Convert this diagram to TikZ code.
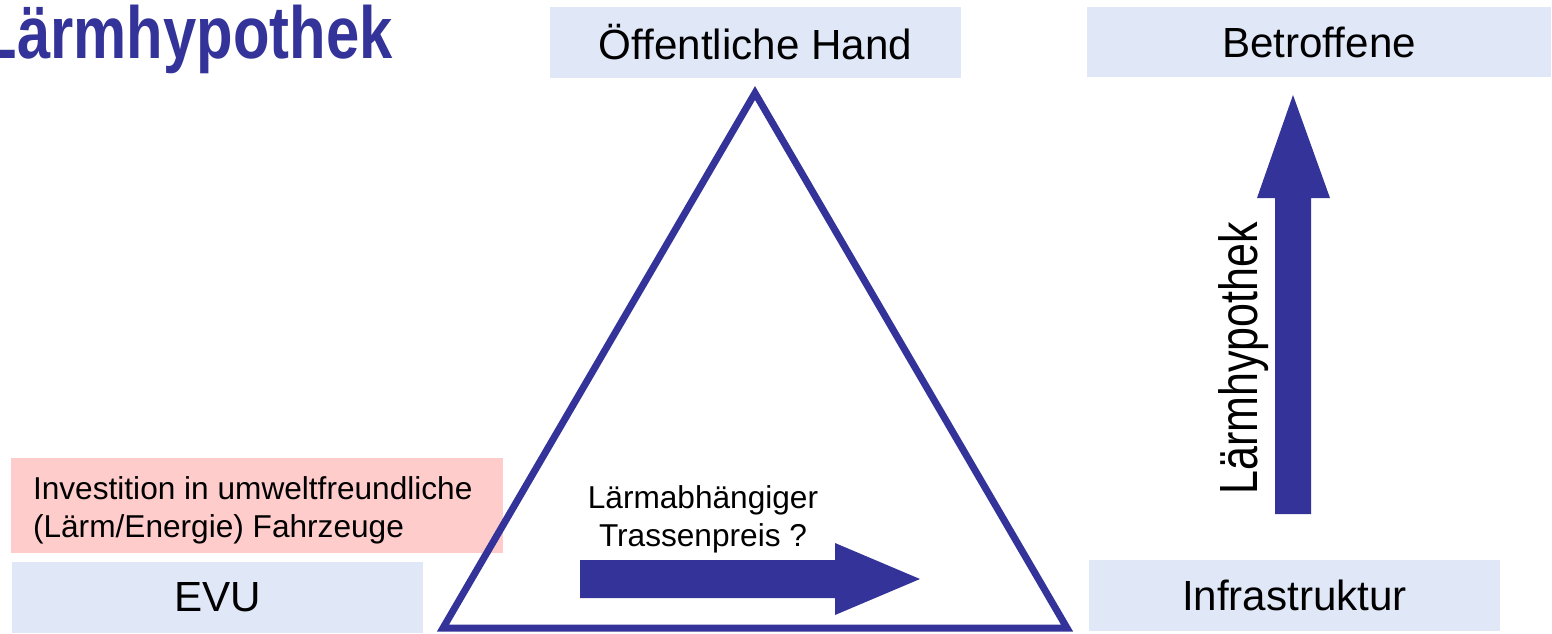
\documentclass[tikz,border=0pt]{standalone}
\usepackage{fontspec}
\setmainfont{Liberation Sans}
\definecolor{hypblue}{RGB}{51,51,153}
\definecolor{boxblue}{RGB}{224,231,247}
\definecolor{boxpink}{RGB}{255,204,204}
\tikzset{
  party/.style={fill=boxblue, minimum width=8.22cm, minimum height=1.42cm, inner sep=0pt, font=\fontsize{24}{28}\selectfont},
  hint/.style={font=\fontsize{18}{21.6}\selectfont, inner sep=0pt},
}

\begin{document}
\begin{tikzpicture}[x=0.02cm, y=-0.02cm]
        \useasboundingbox (0,0) rectangle (1552,633);

        % title, cut at the left edge
        \node (title) [anchor=base east, inner sep=0pt, text=hypblue, font=\fontsize{42}{50}\selectfont\bfseries] at (393,58) {\scalebox{0.81}[1]{Lärmhypothek}};

        % parties
        \node (hand) [party] at (755.5,42.5) {Öffentliche Hand};
        \node (betroffene) [party, minimum width=9.28cm] at (1319,42) {Betroffene};
        \node (infra) [party] at (1294.5,595) {Infrastruktur};
        \node (evu) [party] at (217.5,597.5) {EVU};

        \node (invest) [fill=boxpink, minimum width=9.84cm, minimum height=1.9cm, inner sep=0pt] at (257,505.5) {};
        \node (investtext) [hint, anchor=west, align=left] at ([xshift=0.44cm, yshift=-0.1cm]invest.west) {Investition in umweltfreundliche\\(Lärm/Energie) Fahrzeuge};

        % triangle
        \draw[hypblue, line width=0.14cm] (755,93) -- (443,628) -- (1067,628) -- cycle;

        % block arrows
        \fill[hypblue] (580,560) -- (835,560) -- (835,543) -- (920,579) -- (835,615) -- (835,598) -- (580,598) -- cycle;
        \fill[hypblue] (1275,514) -- (1275,198) -- (1257,198) -- (1293,95) -- (1330,198) -- (1311,198) -- (1311,514) -- cycle;

        \node (preis) [hint, align=center] at (703,519) {Lärmabhängiger\\Trassenpreis ?};
        \node (hypothek) [rotate=90, anchor=base, inner sep=0pt, font=\fontsize{30.6}{36}\selectfont] at (1257,358.5) {\scalebox{0.8}[1]{Lärmhypothek}};
    \end{tikzpicture}
\end{document}
